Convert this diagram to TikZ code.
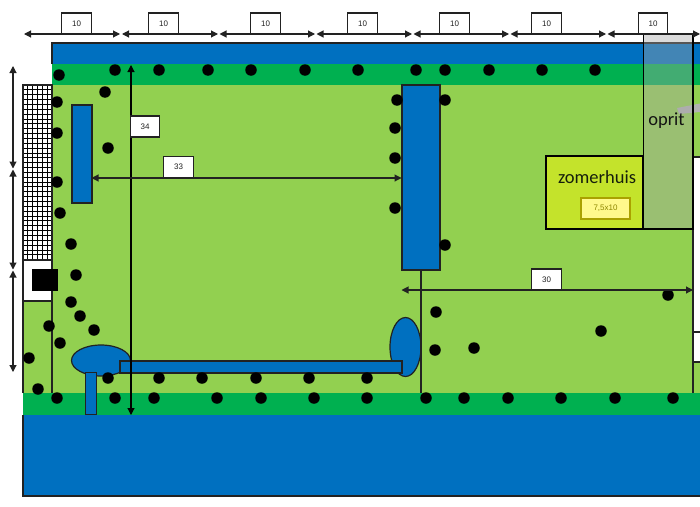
\documentclass[tikz,border=0pt]{standalone}
\usepackage{fontspec}
\setmainfont{Liberation Sans}
\newfontfamily\calfont{Carlito}
\usetikzlibrary{arrows.meta}
\definecolor{lawn}{HTML}{92D050}
\definecolor{hedge}{HTML}{00B050}
\definecolor{water}{HTML}{0070C0}
\definecolor{house}{HTML}{C4E32B}
\definecolor{ink}{HTML}{222222}
\definecolor{road}{HTML}{A6A6A6}
\tikzset{
  dim/.style={draw=ink,line width=1.1pt,{Triangle[length=7pt,width=7pt]}-{Triangle[length=7pt,width=7pt]}},
  dimbox/.style={draw=ink,line width=1.1pt,fill=white,minimum width=29.5pt,minimum height=21pt,inner sep=0pt,font=\fontsize{8}{10}\selectfont,text=ink},
  blueshape/.style={draw=ink,line width=1.2pt,fill=water},
  wall/.style={draw=ink,line width=1.2pt},
  tree/.style={fill=black,circle,minimum size=11.5pt,inner sep=0pt,draw=none},
}
\begin{document}
\begin{tikzpicture}[x=1pt,y=-1pt]
\useasboundingbox (0,0) rectangle (700,506);
% grounds
\fill[lawn] (52,85) rectangle (700,393);
\fill[lawn] (23,301) rectangle (52,393);
\fill[white] (693.5,157) rectangle (700,362);
\fill[water] (52,43) rectangle (700,64);
\fill[hedge] (52,64) rectangle (700,85);
\fill[hedge] (23,393) rectangle (700,415);
\fill[water] (23,415) rectangle (700,496);
\draw[wall] (52,64) -- (52,43) -- (700,43);
\draw[wall] (700,496) -- (23,496) -- (23,415);
\draw[wall] (52,85) -- (52,393);
\draw[wall] (23,260) -- (23,393);
\draw[wall] (693,157) -- (693,393);
\draw[wall] (693,157) -- (700,157);
\draw[wall] (693,332) -- (700,332);
\draw[wall] (693,362) -- (700,362);
% grid
\fill[white] (23,85) rectangle (52,260);
\foreach \i in {0,...,5} \draw[black,line width=0.8pt] ({23+4.85*\i},85) -- ({23+4.85*\i},260);
\foreach \i in {0,...,36} \draw[black,line width=0.8pt] (23,{85+4.85*\i}) -- (52,{85+4.85*\i});
\draw[wall] (23,85) rectangle (52,260);
\draw[wall,fill=white] (23,260) rectangle (52,301);
\fill[black] (32,269) rectangle (57.5,290.5);
% water shapes
\draw[blueshape] (72,105) rectangle (92,203);
\draw[blueshape] (402,85) rectangle (440,270);
\draw[blueshape] (101,360.5) ellipse [x radius=29.5pt,y radius=15.5pt];
\draw[blueshape] (405.5,347) ellipse [x radius=15.5pt,y radius=29.5pt];
\draw[blueshape] (120,361) rectangle (402,373);
\draw[blueshape] (85.5,372.5) rectangle (96.5,414.5);
\draw[wall] (421,270) -- (421,393);
% trees
\foreach \x/\y in {59/75,115/70,159/70,208/70,251/70,305/70,358/70,416/70,445/70,489/70,542/70,595/70,
 105/92,57/102,57/133,108/148,57/182,60/213,71/244,76/275,71/302,80/316,94/330,49/326,60/343,29/358,38/389,
 397/100,445/100,395/128,395/158,395/208,445/245,436/312,435/350,474/348,601/331,668/295,
 108/378,159/378,202/378,256/378,309/378,367/378,
 57/398,115/398,154/398,217/398,261/398,314/398,367/398,426/398,464/398,508/398,561/398,615/398,673/398}
  \node[tree] at (\x,\y) {};
% summer house
\node[draw=black,line width=1.1pt,fill=house,minimum width=97pt,minimum height=73pt,inner sep=0pt] (zh) at (594.5,192.5) {};
\node[font=\calfont\fontsize{18.5}{20}\selectfont,text=black!85!lawn] (zt) at (597,177) {zomerhuis};
\node[draw=olive!75!yellow,line width=1.2pt,fill=yellow!45,minimum width=49pt,minimum height=21pt,inner sep=0pt,font=\fontsize{8}{10}\selectfont,text=olive] (zs) at (605.5,208.5) {7,5x10};
% driveway
\fill[gray!60] (677,108) -- (700,103.5) -- (700,112) -- (679,114) -- cycle;
\draw[black,line width=1.1pt,fill=road,fill opacity=0.4] (643.5,34) rectangle (693,229);
\node[font=\calfont\fontsize{18.5}{20}\selectfont,text=black!85!gray] (op) at (666.5,121) {oprit};
% dimensions top
\foreach \n/\a/\b/\c in {a/24/120/76.5,b/122/218/163.5,c/219.5/315/265.5,d/316.5/412/362.5,e/413.5/509/454.5,f/510.5/606/546.5,g/607.5/700/653}{
  \coordinate (\n1) at (\a,34);
  \coordinate (\n2) at (\b,34);
  \draw[dim] (\n1) -- (\n2);
  \node[dimbox] (\n box) at (\c,23.5) {10};
}
% left dims
\coordinate (l1) at (13,66);
\coordinate (l2) at (13,168.5);
\coordinate (l3) at (13,169.5);
\coordinate (l4) at (13,269.5);
\coordinate (l5) at (13,270.5);
\coordinate (l6) at (13,372);
\draw[dim] (l1) -- (l2);
\draw[dim] (l3) -- (l4);
\draw[dim] (l5) -- (l6);
% inner dims
\coordinate (v1) at (131,65);
\coordinate (v2) at (131,415);
\draw[dim,draw=black] (v1) -- (v2);
\node[dimbox,minimum width=28.5pt] (b34) at (145,126.5) {34};
\coordinate (h1) at (91.5,178);
\coordinate (h2) at (401.5,178);
\draw[dim] (h1) -- (h2);
\node[dimbox] (b33) at (178.5,167) {33};
\coordinate (k1) at (401.5,290);
\coordinate (k2) at (693,290);
\draw[dim] (k1) -- (k2);
\node[dimbox] (b30) at (546.5,279.5) {30};
\end{tikzpicture}
\end{document}
